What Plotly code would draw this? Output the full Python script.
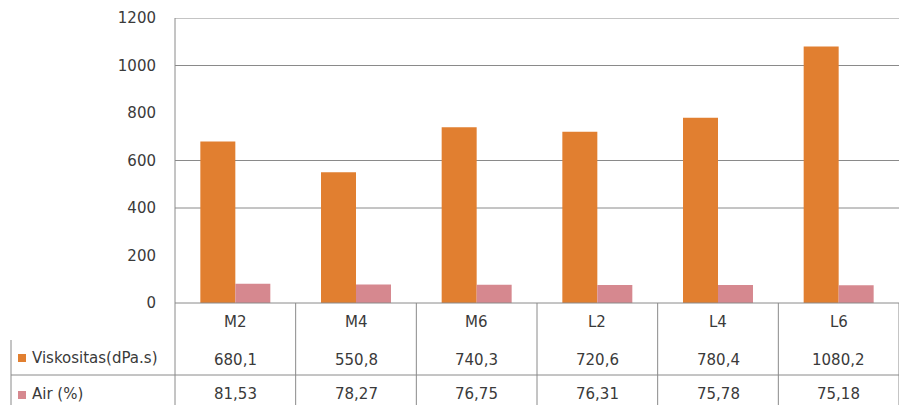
import plotly.graph_objects as go

categories = ["M2", "M4", "M6", "L2", "L4", "L6"]
viskositas = [680.1, 550.8, 740.3, 720.6, 780.4, 1080.2]
air = [81.53, 78.27, 76.75, 76.31, 75.78, 75.18]
series_names = ["Viskositas(dPa.s)", "Air (%)"]
y_ticks = [0, 200, 400, 600, 800, 1000, 1200]
grid_values = [400, 600, 1000, 1200]

ORANGE = "#E17F30"
PINK = "#D6888F"
TXT = "#3a3a3a"
LINE = "#8a8a8a"
FONT = "DejaVu Sans"
FS = 15

W, H = 899, 405
L, T, B = 175, 18, 102
PH = H - T - B  # plot height in px


def py(px_y):
    """pixel y (from top) -> paper y"""
    return (H - B - px_y) / PH


def px_(px_x):
    return (px_x - L) / (W - L)


fig = go.Figure()
fig.add_trace(go.Bar(x=list(range(len(categories))), y=viskositas, name=series_names[0],
                     marker=dict(color=ORANGE, line=dict(width=0))))
fig.add_trace(go.Bar(x=list(range(len(categories))), y=air, name=series_names[1],
                     marker=dict(color=PINK, line=dict(width=0))))

shapes = []
for g in grid_values:
    shapes.append(dict(type="line", xref="paper", yref="y", x0=0, x1=1, y0=g, y1=g,
                       line=dict(color=LINE, width=1), layer="below"))
shapes.append(dict(type="line", xref="paper", yref="paper", x0=0, x1=0, y0=1, y1=py(H),
                   line=dict(color=LINE, width=1)))
shapes.append(dict(type="line", xref="paper", yref="paper", x0=0, x1=1, y0=0, y1=0,
                   line=dict(color=LINE, width=1)))
for i in range(1, len(categories) + 1):
    shapes.append(dict(type="line", xref="x", yref="paper", x0=i - 0.5, x1=i - 0.5,
                       y0=0, y1=py(H), line=dict(color=LINE, width=1)))
shapes.append(dict(type="line", xref="paper", yref="paper", x0=px_(11), x1=1,
                   y0=py(375), y1=py(375), line=dict(color=LINE, width=1)))
shapes.append(dict(type="line", xref="paper", yref="paper", x0=px_(11), x1=px_(11),
                   y0=py(340), y1=py(H), line=dict(color=LINE, width=1)))
for color, yc in [(ORANGE, 358), (PINK, 395)]:
    shapes.append(dict(type="rect", xref="paper", yref="paper",
                       x0=px_(18), x1=px_(26), y0=py(yc - 4), y1=py(yc + 4),
                       fillcolor=color, line=dict(width=0)))

annotations = []
font = dict(size=FS, color=TXT, family=FONT)
for i, c in enumerate(categories):
    annotations.append(dict(x=i, xref="x", y=py(322), yref="paper", text=c,
                            yanchor="middle", showarrow=False, font=font))
    annotations.append(dict(x=i, xref="x", y=py(360), yref="paper",
                            text=f"{viskositas[i]:.1f}".replace(".", ","),
                            yanchor="middle", showarrow=False, font=font))
    annotations.append(dict(x=i, xref="x", y=py(394), yref="paper",
                            text=f"{air[i]:.2f}".replace(".", ","),
                            yanchor="middle", showarrow=False, font=font))
for name, yc in zip(series_names, [358, 394]):
    annotations.append(dict(x=px_(30), xref="paper", y=py(yc), yref="paper", text=name,
                            xanchor="left", yanchor="middle", showarrow=False,
                            font=dict(size=FS, color=TXT, family=FONT)))

fig.update_layout(
    width=W, height=H,
    margin=dict(l=L, r=0, t=T, b=B),
    paper_bgcolor="white", plot_bgcolor="white",
    barmode="group", bargap=0.42, bargroupgap=0,
    showlegend=False,
    xaxis=dict(range=[-0.5, len(categories) - 0.5], showticklabels=False, showgrid=False,
               zeroline=False, showline=False, fixedrange=True),
    yaxis=dict(range=[0, 1200], tickvals=y_ticks, showgrid=False, zeroline=False,
               showline=False, ticks="", ticklabelstandoff=18,
               tickfont=dict(size=FS, color=TXT, family=FONT), fixedrange=True),
    shapes=shapes, annotations=annotations,
)

fig.write_html("out.html")
